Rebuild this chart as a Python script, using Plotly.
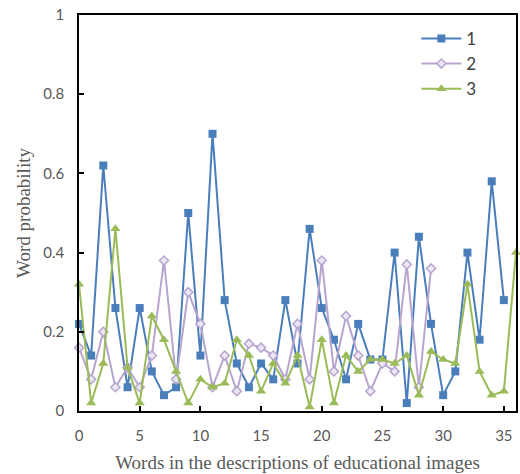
import plotly.graph_objects as go

x1 = list(range(36))
s1 = [0.22, 0.14, 0.62, 0.26, 0.06, 0.26, 0.10, 0.04, 0.06, 0.50,
      0.14, 0.70, 0.28, 0.12, 0.06, 0.12, 0.08, 0.28, 0.12, 0.46,
      0.26, 0.18, 0.08, 0.22, 0.13, 0.13, 0.40, 0.02, 0.44, 0.22,
      0.04, 0.10, 0.40, 0.18, 0.58, 0.28]
x2 = list(range(30))
s2 = [0.16, 0.08, 0.20, 0.06, 0.11, 0.06, 0.14, 0.38, 0.08, 0.30,
      0.22, 0.06, 0.14, 0.05, 0.17, 0.16, 0.14, 0.08, 0.22, 0.08,
      0.38, 0.10, 0.24, 0.14, 0.05, 0.12, 0.10, 0.37, 0.06, 0.36]
x3 = list(range(37))
s3 = [0.32, 0.02, 0.12, 0.46, 0.11, 0.02, 0.24, 0.18, 0.10, 0.02,
      0.08, 0.06, 0.07, 0.18, 0.14, 0.05, 0.12, 0.07, 0.14, 0.01,
      0.18, 0.02, 0.14, 0.10, 0.13, 0.13, 0.12, 0.14, 0.04, 0.15,
      0.13, 0.12, 0.32, 0.10, 0.04, 0.05, 0.40]
names = ["1", "2", "3"]

fig = go.Figure()
fig.add_trace(go.Scatter(x=x1, y=s1, name=names[0], mode="lines+markers",
                         line=dict(color="#4a7ebb", width=2),
                         marker=dict(symbol="square", size=8, color="#4a7ebb")))
fig.add_trace(go.Scatter(x=x2, y=s2, name=names[1], mode="lines+markers",
                         line=dict(color="#b7a5cf", width=2),
                         marker=dict(symbol="diamond", size=7, color="#ece6f4",
                                     line=dict(color="#b7a5cf", width=1.5))))
fig.add_trace(go.Scatter(x=x3, y=s3, name=names[2], mode="lines+markers",
                         line=dict(color="#9bbb59", width=2),
                         marker=dict(symbol="triangle-up", size=9, color="#9bbb59")))

tickfont = dict(family="Lato, Open Sans, sans-serif", size=15, color="#595959")
titlefont = dict(family="Liberation Serif, serif", size=19, color="#595959")

fig.update_layout(
    width=520, height=474,
    margin=dict(l=79, r=2, t=15, b=63),
    plot_bgcolor="white", paper_bgcolor="white",
    showlegend=True,
    legend=dict(x=0.772, y=0.985, xanchor="left", yanchor="top",
                bgcolor="rgba(0,0,0,0)", itemwidth=40,
                font=dict(family="Lato, Open Sans, sans-serif", size=17, color="#404040")),
    xaxis=dict(range=[0, 36], dtick=5, tick0=0, showgrid=False, zeroline=False,
               showline=True, linecolor="black", linewidth=1.5, mirror=True,
               ticks="inside", ticklen=5, tickcolor="black", tickwidth=1.5,
               tickfont=tickfont, ticklabelstandoff=10,
               title=dict(text="Words in the descriptions of educational images",
                          font=titlefont, standoff=13)),
    yaxis=dict(range=[0, 1], dtick=0.2, tick0=0, showgrid=False, zeroline=False,
               showline=True, linecolor="black", linewidth=1.5, mirror=True,
               ticks="inside", ticklen=5, tickcolor="black", tickwidth=1.5,
               tickfont=tickfont, ticklabelstandoff=10,
               title=dict(text="Word probability", font=titlefont, standoff=8)),
)
for tr in fig.data:
    tr.cliponaxis = False

fig.write_html("out.html", config={"displayModeBar": False},
               post_script="document.body.style.margin='0';")
